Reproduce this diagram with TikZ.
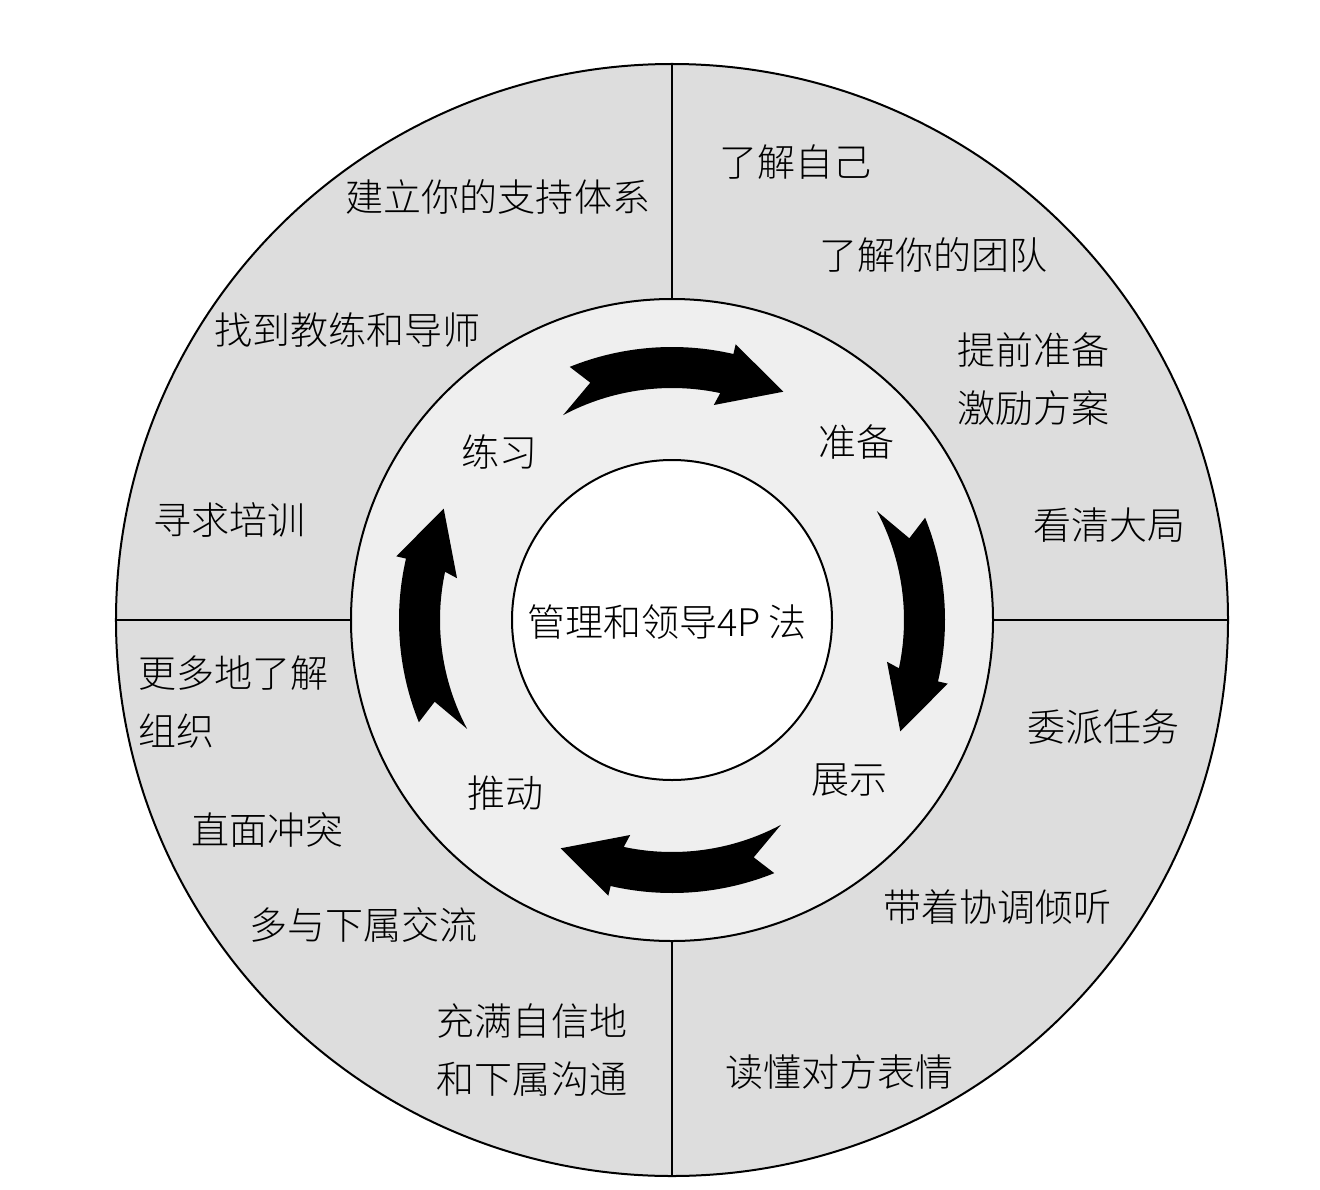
\documentclass[tikz,border=0pt]{standalone}
\usepackage{fontspec}
\newfontfamily\cjk{Noto Sans CJK SC}[UprightFont={* Light}]
\definecolor{outergray}{RGB}{221,221,221}
\definecolor{midgray}{RGB}{239,239,239}
\begin{document}
\begin{tikzpicture}[x=0.5pt, y=0.5pt, line width=1pt,
    every node/.style={font=\cjk\fontsize{19pt}{29pt}\selectfont, align=left, inner sep=0pt},
    ring/.style={draw=black},
    turn/.style={fill=black, draw=none}]
\useasboundingbox (-672,-569) rectangle (648,620);

% rings and quarters
\filldraw[ring, fill=outergray] (0,0) circle[radius=556];
\draw (0,556) -- (0,-556);
\draw (-556,0) -- (556,0);
\filldraw[ring, fill=midgray] (0,0) circle[radius=321];
\filldraw[ring, fill=white] (0,0) circle[radius=160];

% the four turning arrows
\foreach \r in {0,-90,-180,-270}
  \fill[turn, rotate=\r] (112:273) -- (109:251) -- (118:232)
    arc[start angle=118, end angle=78, radius=232] -- (79:219) -- (64:254)
    -- (77:283) -- (77:273) arc[start angle=77, end angle=112, radius=273] -- cycle;

\node (core) at (-5,-2) {管理和领导4P 法};

\node (practice) at (-173,168) {练习};
\node (prepare) at (184,178) {准备};
\node (present) at (177,-160) {展示};
\node (push) at (-167,-173) {推动};

% top right
\node (self) at (123,458) {了解自己};
\node (team) at (261,365) {了解你的团队};
\node (plan) at (361,241) {提前准备\\激励方案};
\node (whole) at (437,95) {看清大局};
% top left
\node (support) at (-174,423) {建立你的支持体系};
\node (coach) at (-324,290) {找到教练和导师};
\node (train) at (-442,100) {寻求培训};
% bottom left
\node[anchor=west] (org) at (-534,-82) {更多地了解\\组织};
\node (conflict) at (-404,-210) {直面冲突};
\node (talk) at (-308,-305) {多与下属交流};
\node (confident) at (-140,-430) {充满自信地\\和下属沟通};
% bottom right
\node (delegate) at (431,-107) {委派任务};
\node (listen) at (325,-287) {带着协调倾听};
\node (read) at (167,-452) {读懂对方表情};
\end{tikzpicture}
\end{document}
